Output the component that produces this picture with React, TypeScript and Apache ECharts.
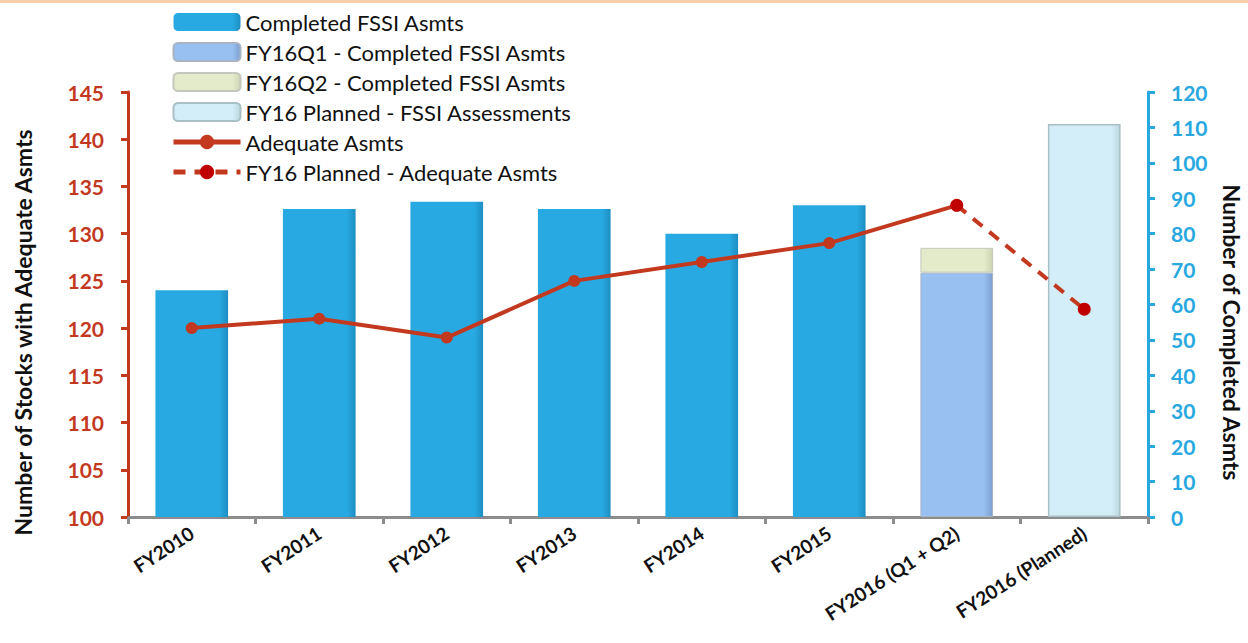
import React, { useEffect, useRef } from "react";
import * as echarts from "echarts";

const categories = [
  "FY2010",
  "FY2011",
  "FY2012",
  "FY2013",
  "FY2014",
  "FY2015",
  "FY2016 (Q1 + Q2)",
  "FY2016 (Planned)",
];
const completedFSSI = [64, 87, 89, 87, 80, 88, "-", "-"];
const fy16Q1 = ["-", "-", "-", "-", "-", "-", 69, "-"];
const fy16Q2 = ["-", "-", "-", "-", "-", "-", 7, "-"];
const fy16Planned = ["-", "-", "-", "-", "-", "-", "-", 111];
const adequate = [120, 121, 119, 125, 127, 129, 133, "-"];
const adequatePlanned = ["-", "-", "-", "-", "-", "-", 133, 122];

const FONT = "Lato, 'Open Sans', sans-serif";
const RED = "#C3391F";
const BLUE = "#29A8E0";

function hgrad(c1: string, c2: string) {
  return new echarts.graphic.LinearGradient(0, 0, 1, 0, [
    { offset: 0, color: c1 },
    { offset: 0.88, color: c1 },
    { offset: 1, color: c2 },
  ]);
}

export default function App() {
  const ref = useRef<HTMLDivElement>(null);
  useEffect(() => {
    document.body.style.margin = "0";
    const chart = echarts.init(ref.current!, null, { renderer: "svg" });
    chart.setOption({
      animation: false,
      backgroundColor: "#ffffff",
      textStyle: { fontFamily: FONT },
      graphic: [
        {
          type: "rect",
          shape: { x: 0, y: 0, width: 1248, height: 3 },
          style: { fill: "#F7CFA8" },
        },
      ],
      legend: {
        orient: "vertical",
        left: 166,
        top: 6,
        itemWidth: 67,
        itemHeight: 18,
        itemGap: 8,
        textStyle: { fontFamily: FONT, fontSize: 22, color: "#111", lineHeight: 18 },
        data: [
          { name: "Completed FSSI Asmts" },
          { name: "FY16Q1 - Completed FSSI Asmts" },
          { name: "FY16Q2 - Completed FSSI Asmts" },
          { name: "FY16 Planned - FSSI Assessments" },
          { name: "Adequate Asmts", lineStyle: { width: 5 } },
          { name: "FY16 Planned - Adequate Asmts", lineStyle: { width: 5 } },
        ],
      },
      grid: {
        left: 128,
        right: 100,
        top: 92,
        bottom: 126,
        containLabel: false,
        outerBoundsMode: "none",
      },
      xAxis: {
        type: "category",
        data: categories,
        axisLine: { lineStyle: { color: "#8C8C8C", width: 3 } },
        axisTick: { show: true, length: 7, lineStyle: { color: "#8C8C8C", width: 3 } },
        axisLabel: {
          rotate: 33,
          fontFamily: FONT,
          fontSize: 19,
          fontWeight: "bold",
          color: "#111",
          margin: 14,
          interval: 0,
        },
      },
      yAxis: [
        {
          type: "value",
          min: 100,
          max: 145,
          interval: 5,
          position: "left",
          name: "Number of Stocks with Adequate Asmts",
          nameLocation: "middle",
          nameRotate: 90,
          nameGap: 94,
          nameTextStyle: {
            fontFamily: FONT,
            fontSize: 23,
            fontWeight: "bold",
            color: "#111",
            padding: [0, 56, 0, 0],
          },
          axisLine: { show: true, lineStyle: { color: RED, width: 3 } },
          axisTick: { show: true, length: 7, lineStyle: { color: RED, width: 3 } },
          axisLabel: {
            fontFamily: FONT,
            fontSize: 21,
            fontWeight: "bold",
            color: RED,
            margin: 24,
          },
          splitLine: { show: false },
        },
        {
          type: "value",
          min: 0,
          max: 120,
          interval: 10,
          position: "right",
          name: "Number of Completed Asmts",
          nameLocation: "middle",
          nameRotate: -90,
          nameGap: 72,
          nameTextStyle: {
            fontFamily: FONT,
            fontSize: 23,
            fontWeight: "bold",
            color: "#111",
            padding: [0, 0, 0, 56],
          },
          axisLine: { show: true, lineStyle: { color: BLUE, width: 3 } },
          axisTick: { show: true, length: 7, lineStyle: { color: BLUE, width: 3 } },
          axisLabel: {
            fontFamily: FONT,
            fontSize: 21,
            fontWeight: "bold",
            color: BLUE,
            margin: 23,
          },
          splitLine: { show: false },
        },
      ],
      series: [
        {
          name: "Completed FSSI Asmts",
          type: "bar",
          yAxisIndex: 1,
          stack: "bars",
          barWidth: "57%",
          data: completedFSSI,
          itemStyle: {
            color: hgrad("#28A9E1", "#1D8EC2"),
          },
        },
        {
          name: "FY16Q1 - Completed FSSI Asmts",
          type: "bar",
          yAxisIndex: 1,
          stack: "bars",
          data: fy16Q1,
          itemStyle: {
            color: hgrad("#98C0F0", "#7D9FCF"),
            borderColor: "#A9B4C2",
            borderWidth: 1,
          },
        },
        {
          name: "FY16Q2 - Completed FSSI Asmts",
          type: "bar",
          yAxisIndex: 1,
          stack: "bars",
          data: fy16Q2,
          itemStyle: {
            color: hgrad("#E3EBCA", "#CBD3B2"),
            borderColor: "#C4C8BC",
            borderWidth: 1,
          },
        },
        {
          name: "FY16 Planned - FSSI Assessments",
          type: "bar",
          yAxisIndex: 1,
          stack: "bars",
          data: fy16Planned,
          itemStyle: {
            color: hgrad("#D3EEF8", "#BCD6DF"),
            borderColor: "#A9C0C6",
            borderWidth: 1.5,
          },
        },
        {
          name: "Adequate Asmts",
          type: "line",
          yAxisIndex: 0,
          data: adequate,
          symbol: "circle",
          symbolSize: 12,
          lineStyle: { color: RED, width: 4 },
          itemStyle: { color: RED },
          z: 5,
        },
        {
          name: "FY16 Planned - Adequate Asmts",
          type: "line",
          yAxisIndex: 0,
          data: adequatePlanned,
          symbol: "circle",
          symbolSize: 13,
          lineStyle: { color: RED, width: 4, type: [12, 9] },
          itemStyle: { color: "#C00000" },
          z: 6,
        },
      ],
    });
    return () => chart.dispose();
  }, []);
  return <div ref={ref} style={{ width: 1248, height: 643 }} />;
}
